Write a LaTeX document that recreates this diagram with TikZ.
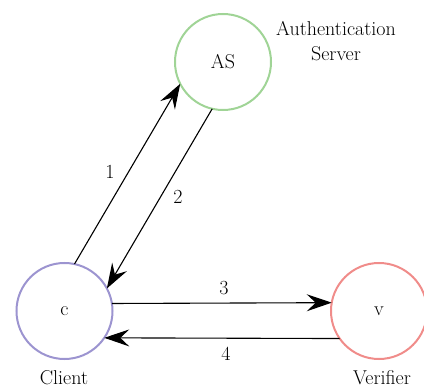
\documentclass[tikz,border=0pt]{standalone}
\usetikzlibrary{arrows.meta}
\definecolor{asgreen}{RGB}{160,212,150}
\definecolor{clpurple}{RGB}{156,148,208}
\definecolor{vered}{RGB}{240,140,138}
\begin{document}
\begin{tikzpicture}[x=1pt,y=-1pt,
  party/.style={circle,draw,line width=2pt,minimum size=96pt,inner sep=0pt,outer sep=0pt,font=\fontsize{20}{24}\selectfont},
  msg/.style={line width=1.1pt,-{Stealth[length=25pt,width=17pt,inset=9pt]}},
  lbl/.style={font=\fontsize{20}{24}\selectfont,inner sep=0pt}]
\useasboundingbox (0,0) rectangle (424,388);
% the three parties
\node[party,draw=asgreen]  (as) at (223,62)  {AS};
\node[party,draw=clpurple] (c)  at (64.5,311) {c};
\node[party,draw=vered]    (v)  at (379,311) {v};
% captions
\node[lbl,align=center] (asname) at (336,41) {Authentication\\[1pt]Server};
\node[lbl] (cname) at (64,378) {Client};
\node[lbl] (vname) at (382,378) {Verifier};
% messages
\draw[msg] (c.78) -- (as.207);
\draw[msg] (as.257) -- (c.28);
\draw[msg] (c.9.5) -- (v.170.5);
\draw[msg] (v.215) -- (c.326);
% message numbers
\node[lbl] (n1) at (110,172) {1};
\node[lbl] (n2) at (178,197) {2};
\node[lbl] (n3) at (224,288) {3};
\node[lbl] (n4) at (226,354) {4};
\end{tikzpicture}
\end{document}
